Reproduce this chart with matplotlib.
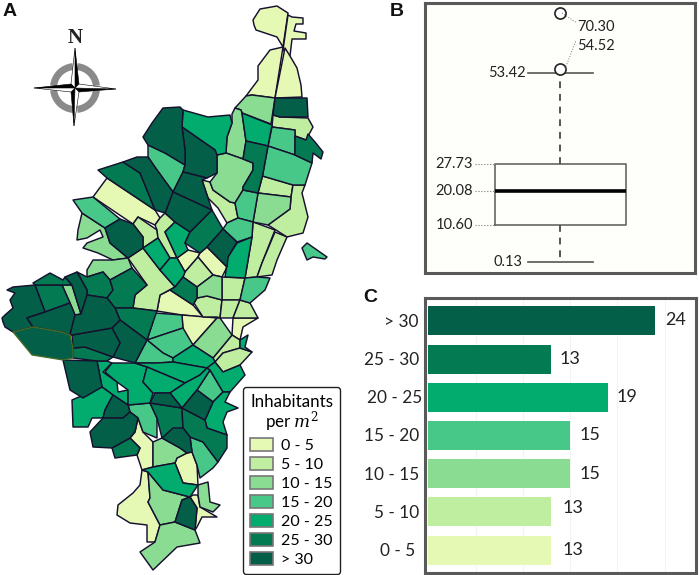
import matplotlib
matplotlib.use("Agg")
import matplotlib.pyplot as plt
from matplotlib.patches import Patch, Polygon, Wedge

plt.rcParams['font.family'] = ['Lato', 'DejaVu Sans']
plt.rcParams['mathtext.fontset'] = 'dejavuserif'

W, H = 699, 575

classes = ['0 - 5', '5 - 10', '10 - 15', '15 - 20', '20 - 25', '25 - 30', '> 30']
class_colors = ['#e5f9b5', '#c0eea0', '#8adc92', '#48c888', '#02ab6e', '#037a52', '#045f48']
locality_counts = [13, 13, 15, 15, 19, 13, 24]

# box plot summary of inhabitants per m2
box_low, box_q1, box_med, box_q3, box_high = 0.13, 10.60, 20.08, 27.73, 53.42
box_outliers = [54.52, 70.30]

# map outlines by density class in image pixels
zone_0_5 = [
    [(253,20),(260,9),(277,6),(288,13),(283,47),(277,37),(256,30),(254,25)],
    [(292,17),(303,18),(303,24),(296,24),(294,31),(306,33),(306,39),(292,39),(290,56),(283,50),(288,15)],
    [(283,47),(270,50),(258,66),(258,80),(246,96),(252,95),(275,98)],
    [(285,48),(290,56),(297,68),(301,85),(302,97),(275,98)],
    [(107,178),(155,210),(160,218),(155,225),(138,217),(133,224),(93,197)],
    [(177,258),(188,250),(200,253),(198,257),(185,272)],
    [(200,253),(207,247),(227,267),(222,277),(213,275),(198,257)],
    [(157,311),(160,295),(170,290),(193,305),(203,317),(182,315)],
    [(182,315),(217,318),(193,345),(183,332)],
    [(233,318),(258,318),(243,327),(240,340),(232,335)],
    [(183,415),(186,415),(186,430),(184,430)],
    [(135,432),(138,418),(143,432),(153,442),(153,467),(142,470),(137,455),(140,448),(130,438)],
    [(177,458),(187,453),(192,452),(197,465),(198,485),(183,483),(175,463)],
    [(142,470),(148,472),(150,498),(148,502),(160,525),(155,542),(147,542),(147,525),(130,523),(117,515),(118,505),(133,493),(140,485)],
    [(193,495),(198,495),(200,507),(217,517),(202,517),(197,527),(195,530),(197,508),(190,497)],
]
zone_5_10 = [
    [(273,115),(280,117),(308,118),(313,127),(306,140),(295,136),(295,130),(272,127)],
    [(262.5,176),(293,185),(291,197),(258,193)],
    [(293,185),(305,185),(302,193),(308,217),(303,233),(287,237),(268,225),(290,209),(291,197)],
    [(202,180),(210,182),(213,190),(230,202),(235,203),(238,218),(227,223),(218,208),(208,198)],
    [(133,224),(138,217),(157,230),(158,238),(143,248),(143,237)],
    [(155,225),(160,218),(165,213),(175,222),(165,232),(177,258),(170,258),(158,238),(157,230)],
    [(253,222),(275,230),(262,263),(257,277),(245,278),(252,237)],
    [(275,232),(287,237),(277,260),(272,275),(257,277),(262,263)],
    [(128,258),(143,248),(160,270),(175,287),(160,295),(157,311),(133,308),(135,295),(147,285)],
    [(185,272),(198,257),(213,275),(197,287),(183,277)],
    [(194,303),(197,298),(207,296),(222,300),(220,318),(217,317),(203,317)],
    [(222,277),(245,278),(240,300),(222,300)],
    [(222,300),(240,300),(233,318),(220,318)],
    [(240,300),(250,303),(258,318),(233,318)],
    [(232,335),(240,340),(240,348),(223,353),(215,362),(213,358)],
    [(223,353),(240,348),(252,352),(240,365),(223,372),(215,362)],
]
zone_10_15 = [
    [(235,108),(246,96),(252,95),(275,98),(271,124),(242,113),(241,110)],
    [(232,114),(235,108),(241,110),(242,113),(246,141),(243,159),(226,153),(227,137),(232,123)],
    [(258,193),(291,197),(290,209),(268,225),(253,222)],
    [(217,155),(226,153),(243,159),(253,163),(253,170),(243,187),(243,190),(235,203),(230,202),(213,190),(210,182),(217,173)],
    [(82,213),(105,228),(110,243),(128,258),(113,260),(98,253),(83,248),(87,243),(103,237),(100,230),(87,238),(77,240),(78,230)],
    [(87,270),(93,260),(113,260),(128,258),(132,268),(110,280),(103,272),(87,277)],
    [(197,287),(213,275),(222,277),(222,300),(207,296),(197,298)],
    [(217,318),(220,318),(232,335),(213,358),(193,345)],
    [(62,285),(72,285),(81,314),(75,315),(70,303)],
    [(153,442),(162,438),(180,448),(187,453),(177,458),(175,463),(153,467)],
    [(148,472),(163,490),(190,497),(182,500),(175,522),(160,525),(148,502),(150,498)],
    [(160,525),(175,522),(195,530),(200,543),(177,547),(153,570),(140,552),(155,542)],
    [(198,485),(208,482),(210,502),(220,505),(213,512),(200,507),(198,495)],
]
zone_15_20 = [
    [(272,127),(295,130),(295,155),(268,146)],
    [(268,146),(295,155),(312,163),(305,185),(293,185),(262.5,176)],
    [(258,193),(253,222),(238,218),(235,203),(243,190)],
    [(148,145),(165,153),(185,165),(183,172),(173,192),(157,170),(148,157)],
    [(73,200),(93,197),(120,219),(105,228),(82,213)],
    [(227,223),(238,218),(253,222),(252,237),(237,242),(223,229)],
    [(302,248),(307,243),(327,257),(325,259),(313,257),(307,260)],
    [(245,278),(257,277),(270,278),(265,290),(250,303),(240,300)],
    [(155,313),(182,315),(183,328),(147,340),(153,322)],
    [(147,340),(183,328),(193,345),(173,358),(163,353)],
    [(147,340),(163,353),(173,358),(173,362),(157,363),(135,363)],
    [(210,370),(223,392),(213,402),(197,390)],
    [(128,405),(150,403),(157,418),(157,438),(143,432),(138,418),(130,412)],
    [(190,437),(203,442),(218,462),(213,468),(200,478),(197,465),(192,452)],
]
zone_20_25 = [
    [(242,113),(272,125),(268,146),(246,141)],
    [(183,110),(208,117),(230,115),(232,123),(227,137),(226,153),(217,155),(215,150),(182,127)],
    [(175,222),(190,232),(185,243),(188,250),(177,258),(165,232)],
    [(237,243),(252,237),(245,278),(225,277),(228,257)],
    [(143,248),(158,238),(170,258),(160,270)],
    [(160,270),(170,258),(177,258),(185,272),(183,277),(175,287)],
    [(193,345),(213,358),(215,362),(207,368),(173,362),(173,358)],
    [(240,340),(248,335),(245,347),(252,352),(240,348)],
    [(97,361),(107,361),(112,363),(103,372),(117,382),(118,392),(128,390),(128,405),(113,395),(102,387)],
    [(112,363),(135,363),(147,367),(143,382),(153,393),(150,403),(128,405),(128,390),(117,382),(105,372)],
    [(135,363),(157,363),(173,362),(207,368),(200,375),(185,383),(147,367)],
    [(147,367),(185,383),(170,393),(153,393),(143,382)],
    [(185,383),(200,375),(207,368),(210,370),(197,390),(182,408),(170,393)],
    [(207,368),(215,362),(223,372),(240,365),(245,375),(230,392),(223,392),(210,370)],
    [(230,392),(225,402),(238,408),(227,412),(223,422),(227,435),(207,428),(205,420),(213,402),(223,392)],
    [(72,400),(102,387),(113,395),(105,410),(103,418),(92,418),(88,427),(73,427)],
    [(153,467),(175,463),(183,483),(198,485),(190,497),(163,490),(148,472),(142,470)],
]
zone_25_30 = [
    [(295,136),(306,140),(308,134),(315,142),(323,152),(321,159),(313,153),(312,163),(295,155)],
    [(246,141),(268,146),(262.5,176),(258,193),(243,190),(243,187),(253,170),(253,163),(243,159)],
    [(98,170),(123,162),(140,173),(147,190),(155,210),(107,178)],
    [(212,210),(223,229),(207,247),(200,253),(185,243),(190,232)],
    [(175,287),(183,277),(197,287),(197,298),(193,305),(170,290)],
    [(35,285),(62,285),(70,303),(45,312)],
    [(33,283),(50,273),(63,280),(65,277),(72,285),(62,285),(35,285)],
    [(77,272),(87,277),(103,272),(110,280),(113,290),(107,298),(87,295),(87,290)],
    [(110,280),(132,268),(147,285),(135,295),(133,308),(115,308),(107,298),(113,290)],
    [(115,308),(133,308),(157,311),(153,322),(147,340),(120,320)],
    [(73,348),(85,347),(113,357),(107,361),(97,361),(73,358)],
    [(150,403),(182,408),(183,428),(162,438),(157,418)],
    [(182,408),(205,420),(207,428),(227,435),(227,448),(218,462),(203,442),(190,437),(183,428)],
    [(112,448),(130,438),(140,448),(137,455),(115,458)],
]
zone_over_30 = [
    [(275,98),(307,98),(308,117),(280,117),(273,115)],
    [(182,127),(215,150),(217,155),(217,173),(207,178),(183,172),(185,165),(185,150)],
    [(143,137),(152,123),(163,108),(180,107),(183,110),(182,127),(185,150),(185,165),(165,153),(148,145)],
    [(183,172),(207,178),(202,180),(208,198),(212,210),(173,192)],
    [(173,192),(212,210),(190,232),(175,222),(165,213)],
    [(123,162),(137,157),(148,157),(157,170),(173,192),(165,213),(155,210),(147,190),(140,173)],
    [(120,219),(133,224),(143,237),(143,248),(128,258),(110,243),(105,228)],
    [(223,229),(237,242),(228,257),(227,267),(207,247)],
    [(112,328),(120,320),(147,340),(135,363),(113,357),(120,343)],
    [(72,335),(112,328),(120,343),(113,357),(85,347),(73,348)],
    [(2,318),(5,315),(13,308),(10,300),(15,293),(7,290),(13,287),(35,285),(45,312),(27,318),(33,327),(13,332),(5,327),(3,322)],
    [(27,318),(45,312),(70,303),(75,315),(70,335),(62,332),(33,327)],
    [(65,277),(77,272),(87,290),(87,295),(81,314),(72,285)],
    [(81,314),(87,295),(107,298),(115,308),(120,320),(112,328),(72,335),(70,335),(75,315)],
    [(63,360),(97,361),(102,387),(83,398),(70,390)],
    [(197,390),(213,402),(205,420),(182,408)],
    [(155,393),(170,393),(182,408),(150,403)],
    [(162,438),(173,428),(183,428),(190,437),(192,452),(187,453),(180,448)],
    [(105,410),(113,395),(128,405),(130,412),(123,418),(103,418)],
    [(90,432),(103,418),(123,418),(130,412),(138,418),(135,432),(130,438),(112,448),(93,447)],
    [(190,497),(197,508),(195,530),(175,522),(182,500)],
]
# the one locality drawn with an olive outline
zone_west = [(13,332),(33,327),(62,332),(70,335),(73,348),(73,358),(63,360),(32,355)]
zones = [zone_0_5, zone_5_10, zone_10_15, zone_15_20, zone_20_25, zone_25_30, zone_over_30]

fig = plt.figure(figsize=(W / 100, H / 100), dpi=100)

# whole figure axes in image pixels, for the map
ax = fig.add_axes([0, 0, 1, 1])
ax.set_xlim(0, W)
ax.set_ylim(H, 0)
ax.axis('off')

for zone, color in zip(zones, class_colors):
    for outline in zone:
        ax.add_patch(Polygon(outline, closed=True, facecolor=color, edgecolor='#16102e',
                             linewidth=1.05, joinstyle='round'))
ax.add_patch(Polygon(zone_west, closed=True, facecolor=class_colors[-1], edgecolor='#4c6a22',
                     linewidth=0.9, joinstyle='round'))

# north arrow
for a1, a2 in [(6, 84), (96, 174), (186, 264), (276, 354)]:
    ax.add_patch(Wedge((75, 88), 25, a1, a2, width=7, facecolor='#8a8a8a', edgecolor='none'))
for tip_x, tip_y, dx, dy in [(75, 48, 4, 4), (116, 89, 4, -4), (74, 126, -4, -4), (34, 88, -4, 4)]:
    ax.add_patch(Polygon([(75, 88), (tip_x, tip_y), (75 + dx, 88 + dy * -1)], facecolor='black', edgecolor='black', linewidth=0.4))
    ax.add_patch(Polygon([(75, 88), (tip_x, tip_y), (75 - dy, 88 - dx)], facecolor='white', edgecolor='black', linewidth=0.4))
ax.text(75, 38, 'N', family='Liberation Serif', fontweight='bold', fontsize=15, ha='center', va='center', color='#222222')

# panel letters
for letter, x, y in [('A', 10, 11), ('B', 397, 11), ('C', 370, 297)]:
    ax.text(x, y, letter, family='Liberation Sans', fontweight='bold', fontsize=14, ha='center', va='center', color='#111111')

# legend
handles = [Patch(facecolor=c, edgecolor='#777777', linewidth=1.2) for c in class_colors]
leg = ax.legend(handles, classes, title='Inhabitants\nper $m^2$', loc='upper left',
                bbox_to_anchor=(243 / W, 1 - 387 / H), fontsize=11.5, title_fontsize=12.2,
                handlelength=1.45, handleheight=0.87, labelspacing=0.25, handletextpad=0.5,
                borderpad=0.45, frameon=True, fancybox=True, edgecolor='#222222', framealpha=1, borderaxespad=0)
leg.get_frame().set_linewidth(1.0)
leg.get_title().set_multialignment('center')
leg.get_title().set_linespacing(0.95)

# panel B
ax_b = fig.add_axes([425 / W, 1 - 273 / H, 270 / W, 270 / H], facecolor='#fefefb')
stats = [dict(whislo=box_low, q1=box_q1, med=box_med, q3=box_q3, whishi=box_high, fliers=box_outliers)]
ax_b.bxp(stats, positions=[0], widths=131, capwidths=65, manage_ticks=False,
         boxprops=dict(color='#666666', linewidth=1.2),
         medianprops=dict(color='black', linewidth=2.6),
         whiskerprops=dict(color='#555555', linewidth=1.4, linestyle=(0, (3.5, 3))),
         capprops=dict(color='#555555', linewidth=1.2),
         flierprops=dict(marker='o', markersize=8, markerfacecolor='white', markeredgecolor='#222222', markeredgewidth=1.2))
ax_b.set_xlim(-135, 135)
ax_b.set_ylim(-2.97, 73.09)
ax_b.set_xticks([])
ax_b.set_yticks([])
for s in ax_b.spines.values():
    s.set_color('#595959')
    s.set_linewidth(2.2)

for val in [box_q3, box_med, box_q1]:
    ax_b.plot([-85, -65], [val, val], color='#777777', linewidth=0.8, linestyle=':')
    ax_b.text(-87, val, f'{val:.2f}', ha='right', va='center', fontsize=10.5, color='#222222')
ax_b.text(-34, box_high, f'{box_high:.2f}', ha='right', va='center', fontsize=10.5, color='#222222')
ax_b.text(-37, box_low, f'{box_low:.2f}', ha='right', va='center', fontsize=10.5, color='#222222')
ax_b.plot([2, 16], [box_outliers[1], 67.6], color='#777777', linewidth=0.7, linestyle=':')
ax_b.plot([5, 16], [box_outliers[0], 62.5], color='#777777', linewidth=0.7, linestyle=':')
ax_b.text(17, 66.2, f'{box_outliers[1]:.2f}', ha='left', va='center', fontsize=10.5, color='#222222')
ax_b.text(17, 61.1, f'{box_outliers[0]:.2f}', ha='left', va='center', fontsize=10.5, color='#222222')

# panel C
ax_c = fig.add_axes([425 / W, 1 - 573 / H, 271 / W, 275 / H])
ypos = list(range(len(classes)))
ax_c.barh(ypos, locality_counts, height=0.76, color=class_colors, zorder=2)
ax_c.set_xlim(-0.35, 28.3)
ax_c.set_ylim(-0.6, 6.6)
ax_c.set_xticks([5, 10, 15, 20, 25])
ax_c.set_xticklabels([])
ax_c.set_yticks([])
ax_c.tick_params(length=0)
ax_c.grid(axis='x', color='#f3f3f3', linewidth=0.8, zorder=0)
for s in ax_c.spines.values():
    s.set_color('#595959')
    s.set_linewidth(2.2)

label_shift = [-4, 0, 0, 0, 3, 0, 0]
value_shift = [(11, 0), (11, 4), (9, 0), (9, 0), (8, 0), (8, 0), (10, 1)]
for i, (name, n) in enumerate(zip(classes, locality_counts)):
    ax_c.annotate(name, (0, i), xycoords=('axes fraction', 'data'), xytext=(-6 + label_shift[i], -1),
                  textcoords='offset pixels', ha='right', va='center', fontsize=12.4, color='#222222')
    ax_c.annotate(str(n), (n, i), xytext=value_shift[i], textcoords='offset pixels',
                  ha='left', va='center', fontsize=13, color='#222222')

fig.savefig('out.png', dpi=100, facecolor='white')
